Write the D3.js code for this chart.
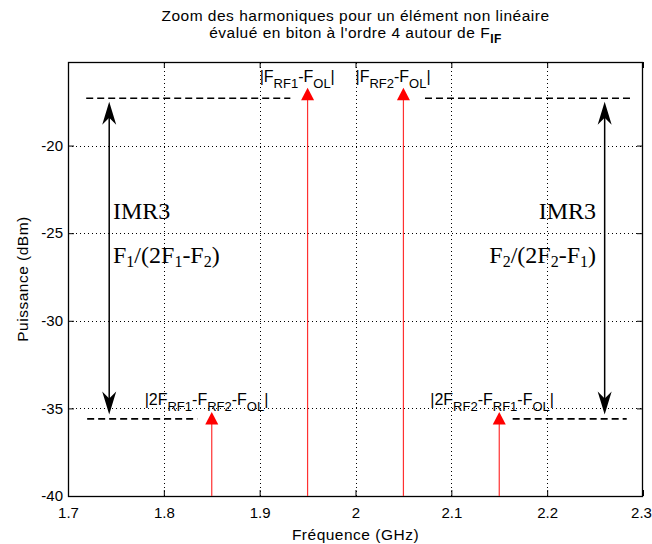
<!DOCTYPE html>
<html>
<head>
<meta charset="utf-8">
<script src="https://cdn.jsdelivr.net/npm/d3@7"></script>
<style>
  html, body { margin: 0; padding: 0; background: #fff; }
  svg { display: block; }
  .sans { font-family: "Liberation Sans", Arial, sans-serif; }
  .serif { font-family: "Liberation Serif", "Times New Roman", serif; }
</style>
</head>
<body>
<svg id="chart" width="652" height="544"></svg>
<script>
// Spectral lines (GHz, dBm)
const lineFreqs = [1.85, 1.95, 2.05, 2.15];
const linePower = [-35.6, -17.1, -17.1, -35.6];

// Reference levels drawn as dashed segments
const levelValues = [-17.3, -17.3, -35.6, -35.6];
const levelStarts = [1.719, 2.0725, 1.72, 2.164];
const levelEnds   = [1.932, 2.288, 1.835, 2.283];

// IMR3 double arrows: x position and end levels
const arrowFreqs = [1.743, 2.26];
const arrowTop = -17.5;
const arrowBottom = -35.35;

// Axis ticks
const xTicks = [1.7, 1.8, 1.9, 2.0, 2.1, 2.2, 2.3];
const xTickLabels = ["1.7", "1.8", "1.9", "2", "2.1", "2.2", "2.3"];
const yTicks = [-40, -35, -30, -25, -20];
const yTickLabels = ["-40", "-35", "-30", "-25", "-20"];

// Line labels: [main, sub] pieces, anchored at a data position
const lineLabels = [
  { x: 1.9,  y: -16.37, parts: [["|F", ""], ["", "RF1"], ["-F", ""], ["", "OL"], ["|", ""]] },
  { x: 2.0,  y: -16.37, parts: [["|F", ""], ["", "RF2"], ["-F", ""], ["", "OL"], ["|", ""]] },
  { x: 1.78, y: -34.78, parts: [["|2F", ""], ["", "RF1"], ["-F", ""], ["", "RF2"], ["-F", ""], ["", "OL"], ["|", ""]] },
  { x: 2.078, y: -34.78, parts: [["|2F", ""], ["", "RF2"], ["-F", ""], ["", "RF1"], ["-F", ""], ["", "OL"], ["|", ""]] }
];

const W = 652, H = 544;
const margin = { left: 68, right: 9, top: 62, bottom: 48 };
const x = d3.scaleLinear().domain([1.7, 2.3]).range([margin.left, W - margin.right]);
const y = d3.scaleLinear().domain([-40, -15.23]).range([H - margin.bottom, margin.top]);

const svg = d3.select("#chart");
const x0 = x.range()[0], x1 = x.range()[1];
const y0 = y.range()[0], y1 = y.range()[1];

// Dotted grid
const grid = svg.append("g").attr("stroke", "#000").attr("stroke-width", 1)
  .attr("stroke-dasharray", "1,3").attr("shape-rendering", "crispEdges");
xTicks.slice(1, -1).forEach(t => {
  grid.append("line").attr("x1", Math.round(x(t)) + 0.5).attr("x2", Math.round(x(t)) + 0.5)
    .attr("y1", y0).attr("y2", y1);
});
yTicks.slice(1).forEach(t => {
  grid.append("line").attr("y1", Math.round(y(t)) + 0.5).attr("y2", Math.round(y(t)) + 0.5)
    .attr("x1", x0).attr("x2", x1);
});

// Axes with inward ticks on all four sides
const tickLen = 6;
const axB = svg.append("g").attr("class", "sans").attr("transform", `translate(0,${y0})`)
  .call(d3.axisBottom(x).tickValues(xTicks).tickSizeInner(-tickLen).tickSizeOuter(0)
    .tickFormat((d, i) => xTickLabels[i]));
axB.selectAll("text").attr("dy", null).attr("y", 22).attr("font-size", 15)
  .attr("dx", (d, i) => i === xTicks.length - 1 ? -2 : 0);
const axT = svg.append("g").attr("transform", `translate(0,${y1})`)
  .call(d3.axisTop(x).tickValues(xTicks).tickSizeInner(-tickLen).tickSizeOuter(0).tickFormat(""));
const axL = svg.append("g").attr("class", "sans").attr("transform", `translate(${x0},0)`)
  .call(d3.axisLeft(y).tickValues(yTicks).tickSizeInner(-tickLen).tickSizeOuter(0)
    .tickFormat((d, i) => yTickLabels[i]));
axL.selectAll("text").attr("x", -5).attr("font-size", 15);
const axR = svg.append("g").attr("transform", `translate(${x1},0)`)
  .call(d3.axisRight(y).tickValues(yTicks).tickSizeInner(-tickLen).tickSizeOuter(0).tickFormat(""));
[axB, axT, axL, axR].forEach(a => {
  a.select(".domain").remove();
  a.selectAll("line").attr("stroke", "#000");
  a.selectAll("text").attr("fill", "#000").attr("font-family", "Liberation Sans, Arial, sans-serif");
});

// Frame
svg.append("rect").attr("x", x0 + 0.5).attr("y", y1 + 0.5)
  .attr("width", x1 - x0 - 1).attr("height", y0 - y1)
  .attr("fill", "none").attr("stroke", "#000").attr("stroke-width", 1.3);

// Dashed reference levels
svg.append("g").selectAll("line").data(levelValues).join("line")
  .attr("x1", (d, i) => x(levelStarts[i])).attr("x2", (d, i) => x(levelEnds[i]))
  .attr("y1", d => y(d)).attr("y2", d => y(d))
  .attr("stroke", "#000").attr("stroke-width", 1.6).attr("stroke-dasharray", "7,4");

// Red spectral lines with triangle markers
const lines = svg.append("g");
lines.selectAll("line").data(lineFreqs).join("line")
  .attr("x1", d => x(d)).attr("x2", d => x(d))
  .attr("y1", y(-40)).attr("y2", (d, i) => y(linePower[i]))
  .attr("stroke", "#ff3030").attr("stroke-width", 1.2);
lines.selectAll("path").data(lineFreqs).join("path")
  .attr("transform", (d, i) => `translate(${x(d)},${y(linePower[i])})`)
  .attr("d", "M0,-7 L6.5,5.5 L-6.5,5.5 Z")
  .attr("fill", "#ff0000");

// IMR3 double arrows
const head = "M0,0 L-7,23 L0,16 L7,23 Z";
const arrows = svg.append("g");
arrowFreqs.forEach(f => {
  const ax = x(f), ya = y(arrowTop), yb = y(arrowBottom);
  arrows.append("line").attr("x1", ax).attr("x2", ax).attr("y1", ya + 10).attr("y2", yb - 10)
    .attr("stroke", "#000").attr("stroke-width", 1.5);
  arrows.append("path").attr("d", head).attr("transform", `translate(${ax},${ya})`).attr("fill", "#000");
  arrows.append("path").attr("d", head).attr("transform", `translate(${ax},${yb}) rotate(180)`).attr("fill", "#000");
});

// IMR3 annotations
function ratioText(sel, a, b) {
  sel.append("tspan").text("F");
  sel.append("tspan").attr("font-size", 16).attr("dy", 4).text(a);
  sel.append("tspan").attr("dy", -4).text("/(2F");
  sel.append("tspan").attr("font-size", 16).attr("dy", 4).text(a);
  sel.append("tspan").attr("dy", -4).text("-F");
  sel.append("tspan").attr("font-size", 16).attr("dy", 4).text(b);
  sel.append("tspan").attr("dy", -4).text(")");
}
const ann = svg.append("g").attr("class", "serif").attr("font-size", 24).attr("fill", "#000");
ann.append("text").attr("x", 113).attr("y", 219).text("IMR3");
ratioText(ann.append("text").attr("x", 113).attr("y", 263), "1", "2");
ann.append("text").attr("x", 596).attr("y", 219).attr("text-anchor", "end").text("IMR3");
ratioText(ann.append("text").attr("x", 596).attr("y", 263).attr("text-anchor", "end"), "2", "1");

// Line labels with subscripts
const lab = svg.append("g").attr("class", "sans").attr("fill", "#000");
lineLabels.forEach(L => {
  const t = lab.append("text").attr("x", x(L.x)).attr("y", y(L.y)).attr("font-size", 16);
  let shifted = false;
  L.parts.forEach(([main, sub]) => {
    if (main) {
      t.append("tspan").attr("dy", shifted ? -6 : 0).attr("font-size", 16).text(main);
      shifted = false;
    } else {
      t.append("tspan").attr("dy", shifted ? 0 : 6).attr("font-size", 13).text(sub);
      shifted = true;
    }
  });
});

// Title
const cx = (x0 + x1) / 2;
const title = svg.append("g").attr("class", "sans").attr("font-size", 15.5)
  .attr("letter-spacing", 0.5).attr("fill", "#000").attr("text-anchor", "middle");
title.append("text").attr("x", cx).attr("y", 21).text("Zoom des harmoniques pour un élément non linéaire");
const tl2 = title.append("text").attr("x", cx).attr("y", 37.5);
tl2.append("tspan").text("évalué en biton à l'ordre 4 autour de F");
tl2.append("tspan").attr("font-size", 12).attr("font-weight", "bold").attr("dy", 5).text("IF");

// Axis titles
svg.append("text").attr("class", "sans").attr("x", cx).attr("y", 540)
  .attr("text-anchor", "middle").attr("font-size", 15.5).attr("letter-spacing", 0.5)
  .text("Fréquence (GHz)");
svg.append("text").attr("class", "sans")
  .attr("transform", `translate(28,${(y0 + y1) / 2}) rotate(-90)`)
  .attr("text-anchor", "middle").attr("font-size", 15.5).attr("letter-spacing", 0.5)
  .text("Puissance (dBm)");
</script>
</body>
</html>
